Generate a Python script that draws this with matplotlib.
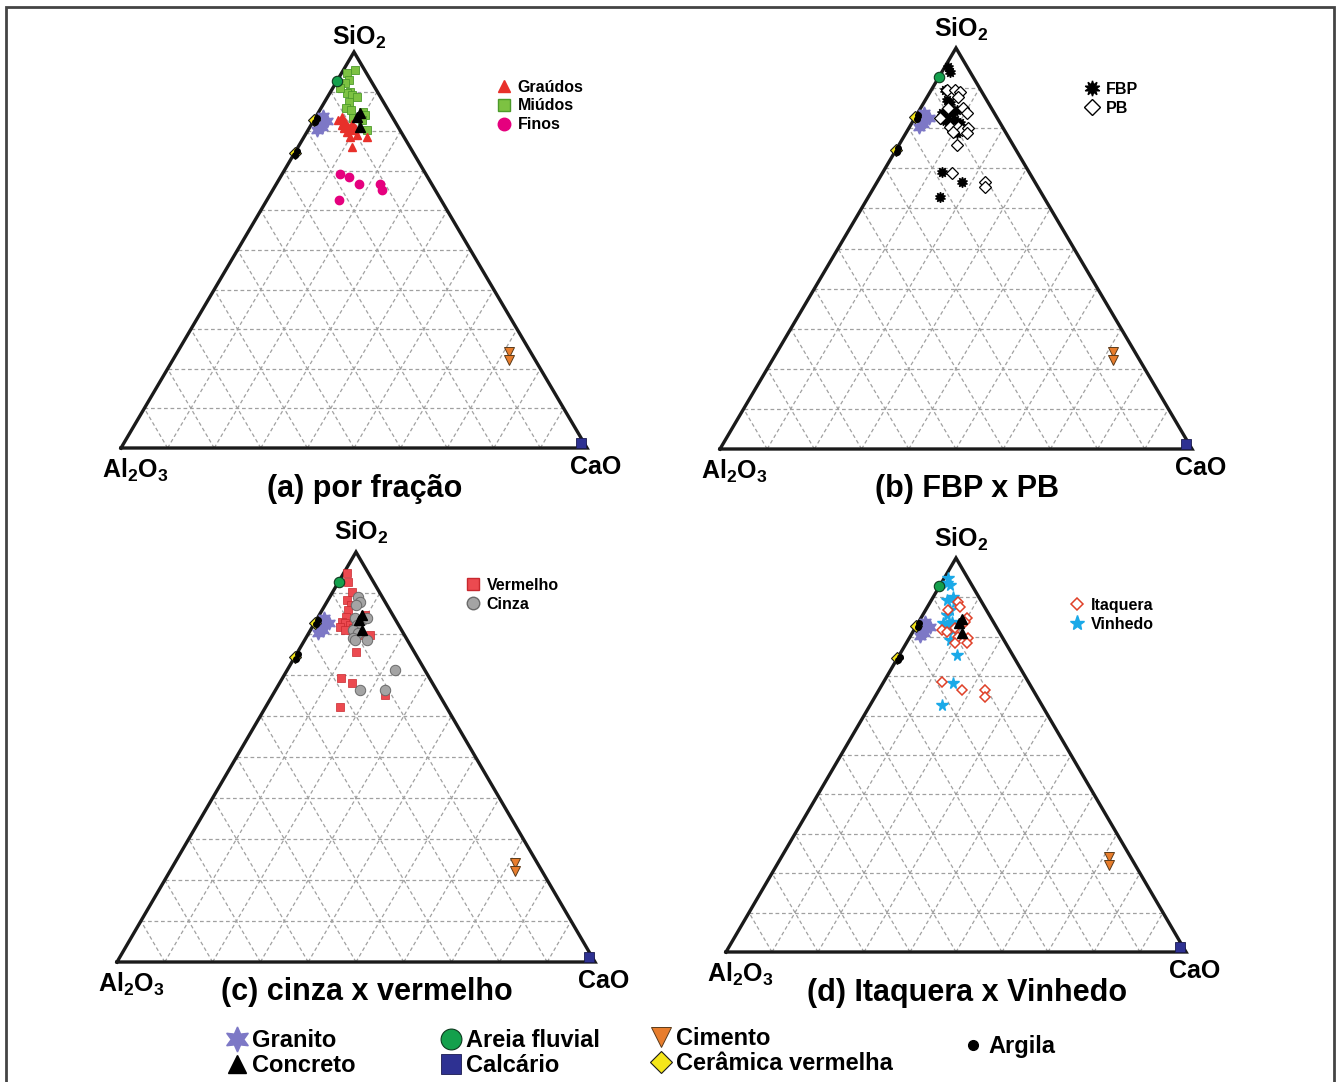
import numpy as np
import matplotlib
matplotlib.use("Agg")
import matplotlib.pyplot as plt
from matplotlib.lines import Line2D
from matplotlib.patches import Rectangle

plt.rcParams['font.family'] = ['Liberation Sans', 'DejaVu Sans']
plt.rcParams['font.weight'] = 'bold'
plt.rcParams['mathtext.fontset'] = 'custom'
plt.rcParams['mathtext.rm'] = 'Liberation Sans:bold'
plt.rcParams['mathtext.bf'] = 'Liberation Sans:bold'
plt.rcParams['mathtext.default'] = 'rm'

# ---------------- data (SiO2 %, CaO %; Al2O3 = remainder) ----------------
granito_sio2 = [83.8, 82.6, 81.8, 81.0, 80.2]
granito_cao = [1.4, 3.0, 1.8, 2.6, 2.0]
concreto_sio2 = [84.6, 83.5, 81.0]
concreto_cao = [8.9, 8.8, 10.8]
areia_sio2 = [92.8]
areia_cao = [0.0]
calcario_sio2 = [1.2]
calcario_cao = [98.2]
cimento_sio2 = [24.2, 22.2]
cimento_cao = [71.2, 72.2]
ceramica_sio2 = [82.8, 74.5]
ceramica_cao = [0.0, 0.0]
argila_sio2 = [83.4, 82.4, 75.0, 74.0]
argila_cao = [0.3, 0.5, 0.3, 0.4]

# (a) por fração
graudos_sio2 = [82.8, 83.6, 82.3, 81.6, 81.1, 81.8, 79.8, 80.3, 78.5, 79.0, 78.5, 76.0, 80.8, 80.8]
graudos_cao = [5.2, 5.6, 6.9, 6.6, 8.2, 8.7, 8.6, 9.6, 9.8, 11.1, 13.5, 11.6, 9.8, 7.5]
miudos_sio2 = [94.7, 92.9, 92.2, 89.9, 89.6, 89.1, 88.6, 87.4, 85.9, 85.4, 84.8, 84.1, 82.8, 83.3, 80.3, 95.5, 91.0]
miudos_cao = [1.2, 2.4, 2.0, 4.2, 3.7, 5.0, 6.3, 5.2, 5.4, 6.7, 9.5, 10.4, 10.3, 8.1, 12.6, 2.5, 1.5]
finos_sio2 = [69.2, 68.4, 66.7, 66.7, 65.2, 62.6]
finos_cao = [12.4, 14.7, 17.8, 22.3, 23.4, 15.5]

# (b) FBP x PB
fbp_sio2 = [95.3, 94.0, 89.5, 87.0, 86.3, 83.8, 82.8, 83.8, 84.5, 82.0, 81.5, 82.0, 81.3, 79.6, 78.8, 69.1, 66.6, 62.8]
fbp_cao = [0.7, 1.7, 2.9, 4.6, 5.6, 5.1, 6.7, 7.3, 7.9, 6.2, 7.5, 8.8, 10.1, 9.4, 10.8, 12.5, 18.0, 15.2]
pb_sio2 = [89.5, 89.5, 89.0, 87.8, 85.0, 85.0, 83.8, 82.5, 80.3, 80.3, 79.6, 79.1, 80.0, 78.8, 75.8, 68.8, 66.6, 65.3]
pb_cao = [3.3, 5.0, 6.3, 6.5, 5.8, 9.0, 10.4, 5.3, 8.5, 10.2, 11.5, 9.9, 12.5, 12.9, 12.3, 14.8, 22.8, 23.4]

# (c) cinza x vermelho
vermelho_sio2 = [94.9, 92.7, 90.2, 88.3, 87.1, 85.9, 84.1, 82.9, 82.7, 82.2, 81.7, 81.5, 81.0, 79.8, 79.8, 84.6, 75.6, 69.3, 68.0, 65.1, 62.2]
vermelho_cao = [0.7, 2.0, 4.1, 4.0, 5.5, 5.4, 5.8, 5.6, 6.4, 7.6, 5.8, 8.7, 7.2, 10.7, 13.0, 9.6, 12.2, 12.3, 15.2, 23.5, 15.6]
cinza_sio2 = [89.0, 87.8, 87.1, 83.9, 83.4, 83.9, 82.2, 81.0, 80.2, 79.0, 78.5, 78.5, 71.2, 66.3, 66.3]
cinza_cao = [5.9, 6.9, 6.5, 7.8, 9.6, 10.3, 9.1, 8.9, 10.3, 9.9, 13.0, 10.5, 22.6, 17.6, 22.9]

# (d) Itaquera x Vinhedo
itaquera_sio2 = [88.8, 87.6, 86.8, 84.8, 83.8, 81.7, 81.2, 82.2, 79.9, 79.7, 78.4, 78.4, 68.5, 66.5, 66.5, 64.7]
itaquera_cao = [6.0, 7.1, 4.9, 10.0, 10.1, 6.1, 7.4, 8.7, 10.4, 12.7, 13.2, 10.6, 12.7, 18.0, 23.0, 23.9]
vinhedo_sio2 = [94.9, 93.1, 93.7, 90.1, 89.3, 88.8, 86.8, 85.5, 83.5, 83.0, 83.8, 82.2, 81.7, 79.2, 75.4, 68.3, 62.7]
vinhedo_cao = [0.8, 2.1, 1.2, 4.3, 3.3, 5.4, 5.3, 5.2, 5.4, 6.8, 7.2, 6.9, 8.4, 9.1, 12.5, 15.2, 15.7]

H = np.sqrt(3) / 2
W, HGT = 1336, 1082


def tern(sio2, cao):
    s = np.asarray(sio2, float) / 100.0
    c = np.asarray(cao, float) / 100.0
    return c + s / 2.0, s * H


fig = plt.figure(figsize=(W / 100, HGT / 100), dpi=100)
fig.patches.append(Rectangle((6 / W, -0.02), (1334 - 6) / W, (HGT - 7) / HGT + 0.02,
                             transform=fig.transFigure, fill=False, ec='#444444', lw=2.0))

# triangle corners in pixels: left x, right x, base y, apex y
panel_px = {
    'a': (121, 587, 448, 52),
    'b': (720, 1192, 449, 48),
    'c': (117, 595, 962, 552),
    'd': (726, 1186, 952, 558),
}
# label offsets (points): SiO2 dy, title dy
label_off = {
    'a': (0.5, -19),
    'b': (3.5, -18),
    'c': (4.5, -11),
    'd': (3.5, -19),
}

lab_fs = 18
title_fs = 22


def make_ax(key, title):
    xl, xr, yb, ya = panel_px[key]
    sdy, tdy = label_off[key]
    ax = fig.add_axes([xl / W, 1 - yb / HGT, (xr - xl) / W, (yb - ya) / HGT])
    ax.set_xlim(0, 1)
    ax.set_ylim(0, H)
    ax.axis('off')
    gkw = dict(color='#a0a0a0', lw=0.9, ls=(0, (3, 2.2)), zorder=1)
    for i in range(1, 10):
        f = i / 10
        ax.plot([f / 2, 1 - f / 2], [f * H, f * H], **gkw)
        ax.plot([f, f + (1 - f) / 2], [0, (1 - f) * H], **gkw)
        ax.plot([1 - f, (1 - f) / 2], [0, (1 - f) * H], **gkw)
    ax.plot([0, 1, 0.5, 0], [0, 0, H, 0], color='#1a1a1a', lw=2.4, zorder=2,
            solid_joinstyle='miter', clip_on=False)
    ax.annotate('SiO$_2$', xy=(0.5, H), xytext=(4, sdy), textcoords='offset points',
                ha='center', va='bottom', fontsize=lab_fs, fontweight='bold')
    ax.annotate('Al$_2$O$_3$', xy=(0, 0), xytext=(10, -6), textcoords='offset points',
                ha='center', va='top', fontsize=lab_fs, fontweight='bold')
    ax.annotate('CaO', xy=(1, 0), xytext=(6, -5), textcoords='offset points',
                ha='center', va='top', fontsize=lab_fs, fontweight='bold')
    ax.annotate(title, xy=(0.5, 0), xytext=(8, tdy), textcoords='offset points',
                ha='center', va='top', fontsize=title_fs, fontweight='bold')
    return ax


def pts(ax, sio2, cao, **kw):
    x, y = tern(sio2, cao)
    kw.setdefault('ls', 'none')
    ax.plot(x, y, clip_on=False, **kw)


STAR6 = (6, 1, 0)
sty = {
    'granito': dict(marker=STAR6, ms=9.5, color='#7d78c6', mec='#7d78c6'),
    'concreto': dict(marker='^', ms=7.5, color='black'),
    'areia': dict(marker='o', ms=7.5, mfc='#14a04c', mec='#0d3a1e', mew=0.8),
    'calcario': dict(marker='s', ms=7, mfc='#2e3192', mec='#1a1a50', mew=0.6),
    'cimento': dict(marker='v', ms=7.5, mfc='#e87d2c', mec='#5a3a1a', mew=0.7),
    'ceramica': dict(marker='D', ms=6, mfc='#f5e61a', mec='#1a1a1a', mew=0.8),
    'argila': dict(marker='o', ms=4, color='black'),
}


def common(ax):
    pts(ax, granito_sio2, granito_cao, zorder=4, **sty['granito'])
    pts(ax, areia_sio2, areia_cao, zorder=5, **sty['areia'])
    pts(ax, calcario_sio2, calcario_cao, zorder=5, **sty['calcario'])
    pts(ax, cimento_sio2, cimento_cao, zorder=5, **sty['cimento'])
    pts(ax, ceramica_sio2, ceramica_cao, zorder=5, **sty['ceramica'])
    pts(ax, argila_sio2, argila_cao, zorder=6, **sty['argila'])


def inner_legend(handles, labels, px, py):
    fig.legend(handles, labels, loc='center left', bbox_to_anchor=(px / W, 1 - py / HGT),
               bbox_transform=fig.transFigure, frameon=False,
               handlelength=1.0, handletextpad=0.35, labelspacing=0.25, borderpad=0,
               borderaxespad=0, prop={'weight': 'bold', 'size': 11.5})


# ---- (a)
ax = make_ax('a', '(a) por fração')
common(ax)
s_mi = dict(marker='s', ms=5.5, mfc='#7dc242', mec='#4c9a2a', mew=0.6)
s_gr = dict(marker='^', ms=6, color='#e8302a')
s_fi = dict(marker='o', ms=6, color='#e5007e')
pts(ax, miudos_sio2, miudos_cao, zorder=3, **s_mi)
pts(ax, graudos_sio2, graudos_cao, zorder=4, **s_gr)
pts(ax, finos_sio2, finos_cao, zorder=4, **s_fi)
pts(ax, concreto_sio2, concreto_cao, zorder=6, **sty['concreto'])
inner_legend([Line2D([], [], ls='none', marker='^', ms=8, color='#e8302a'),
              Line2D([], [], ls='none', marker='s', ms=8, mfc='#7dc242', mec='#4c9a2a'),
              Line2D([], [], ls='none', marker='o', ms=9, color='#e5007e')],
             ['Graúdos', 'Miúdos', 'Finos'], 496, 106)

# ---- (b)
ax = make_ax('b', '(b) FBP x PB')
common(ax)
s_fbp = dict(marker=(10, 1, 0), ms=7.5, color='black')
s_pb = dict(marker='D', ms=6, mfc='white', mec='black', mew=0.9)
pts(ax, fbp_sio2, fbp_cao, zorder=4, **s_fbp)
pts(ax, pb_sio2, pb_cao, zorder=5, **s_pb)
inner_legend([Line2D([], [], ls='none', marker=(10, 1, 0), ms=11, color='black'),
              Line2D([], [], ls='none', marker='D', ms=8, mfc='white', mec='black', mew=1)],
             ['FBP', 'PB'], 1084, 99)

# ---- (c)
ax = make_ax('c', '(c) cinza x vermelho')
common(ax)
s_ve = dict(marker='s', ms=6, mfc='#ec4a50', mec='#c8282e', mew=0.5)
s_ci = dict(marker='o', ms=7.5, mfc='#a4a4a4', mec='#6a6a6a', mew=0.7)
pts(ax, vermelho_sio2, vermelho_cao, zorder=3, **s_ve)
pts(ax, cinza_sio2, cinza_cao, zorder=4, **s_ci)
pts(ax, concreto_sio2, concreto_cao, zorder=6, **sty['concreto'])
inner_legend([Line2D([], [], ls='none', marker='s', ms=9, mfc='#ec4a50', mec='#c8282e'),
              Line2D([], [], ls='none', marker='o', ms=9, mfc='#a4a4a4', mec='#6a6a6a')],
             ['Vermelho', 'Cinza'], 465, 595)

# ---- (d)
ax = make_ax('d', '(d) Itaquera x Vinhedo')
common(ax)
s_it = dict(marker='D', ms=5, mfc='white', mec='#e04028', mew=1.1)
s_vi = dict(marker='*', ms=8.5, color='#1aa9e8')
pts(ax, vinhedo_sio2, vinhedo_cao, zorder=3, **s_vi)
pts(ax, itaquera_sio2, itaquera_cao, zorder=4, **s_it)
pts(ax, concreto_sio2, concreto_cao, zorder=6, **sty['concreto'])
inner_legend([Line2D([], [], ls='none', marker='D', ms=6.5, mfc='white', mec='#e04028', mew=1.1),
              Line2D([], [], ls='none', marker='*', ms=11, color='#1aa9e8')],
             ['Itaquera', 'Vinhedo'], 1069, 615)


# ---- bottom legend
def bottom_legend(handles, labels, px, py):
    fig.legend(handles, labels, loc='center left', bbox_to_anchor=(px / W, 1 - py / HGT),
               bbox_transform=fig.transFigure, frameon=False,
               handlelength=0.9, handletextpad=0.2, labelspacing=0.08, borderpad=0,
               borderaxespad=0, prop={'weight': 'bold', 'size': 17})


def H_(k, ms):
    d = dict(sty[k])
    d['ms'] = ms
    return Line2D([], [], ls='none', **d)


bottom_legend([H_('granito', 18), H_('concreto', 13)], ['Granito', 'Concreto'], 226, 1053)
bottom_legend([H_('areia', 15), H_('calcario', 14)], ['Areia fluvial', 'Calcário'], 440, 1053)
bottom_legend([H_('cimento', 15), H_('ceramica', 11)], ['Cimento', 'Cerâmica vermelha'], 650, 1051)
bottom_legend([H_('argila', 7)], ['Argila'], 962, 1047)

fig.savefig('out.png', dpi=100)
